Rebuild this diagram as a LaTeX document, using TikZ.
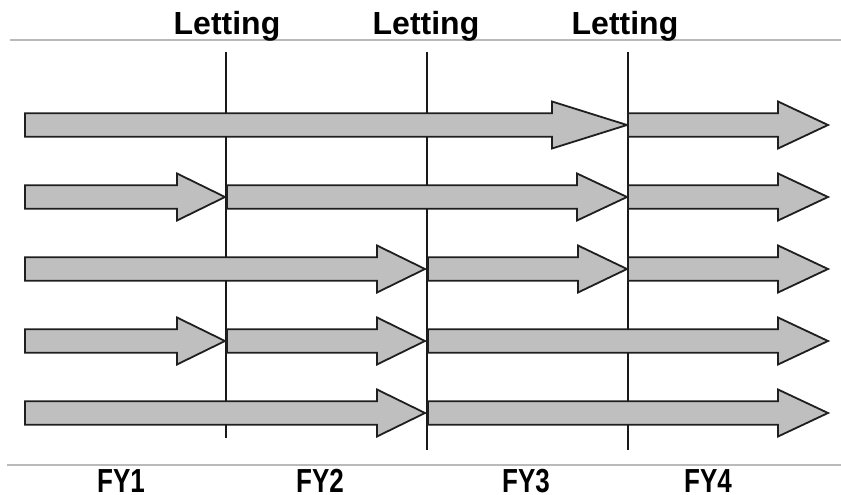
\documentclass[tikz,border=0pt]{standalone}
\usepackage{fontspec}
\setmainfont{Liberation Sans}
\begin{document}
\begin{tikzpicture}[x=0.75pt,y=-0.75pt,
  rulefine/.style={draw=black!27,line width=0.9pt},
  letline/.style={draw=black!90,line width=1.6pt},
  barrow/.style={fill=black!25,draw=black!88,line width=1.35pt,line join=miter},
  toplabel/.style={font=\fontsize{24}{24}\selectfont\bfseries,anchor=base,inner sep=0pt},
  fylabel/.style={font=\fontsize{25}{25}\selectfont\bfseries,anchor=base,inner sep=0pt,xscale=0.78}]
\useasboundingbox[fill=white] (0,0) rectangle (841,495);
\newcommand\tlarrow[4]{%
  \draw[barrow] (#1,#4-11.8) -- (#3,#4-11.8) -- (#3,#4-23.5) -- (#2,#4)
    -- (#3,#4+23.5) -- (#3,#4+11.8) -- (#1,#4+11.8) -- cycle;}
% guide lines
\draw[rulefine] (10,40) -- (841,40);
\draw[rulefine] (7,465) -- (841,465);
% letting lines
\coordinate (l1t) at (226,52); \coordinate (l1b) at (226,438);
\coordinate (l2t) at (427,52); \coordinate (l2b) at (427,450);
\coordinate (l3t) at (628,52); \coordinate (l3b) at (628,450);
\draw[letline] (l1t) -- (l1b);
\draw[letline] (l2t) -- (l2b);
\draw[letline] (l3t) -- (l3b);
% labels
\node[toplabel] (let1) at (227,35) {Letting};
\node[toplabel] (let2) at (426,35) {Letting};
\node[toplabel] (let3) at (625,35) {Letting};
\node[fylabel] (fy1) at (121,492) {FY1};
\node[fylabel] (fy2) at (320,492) {FY2};
\node[fylabel] (fy3) at (526,492) {FY3};
\node[fylabel] (fy4) at (708,492) {FY4};
% arrows
\tlarrow{25}{627}{552}{125}
\tlarrow{628}{828}{778}{125}
\tlarrow{25}{225}{177}{197}
\tlarrow{227}{627}{577}{197}
\tlarrow{628}{828}{778}{197}
\tlarrow{25}{425}{377}{269}
\tlarrow{428}{627}{578}{269}
\tlarrow{628}{828}{778}{269}
\tlarrow{25}{225}{177}{341}
\tlarrow{227}{425}{377}{341}
\tlarrow{428}{828}{778}{341}
\tlarrow{25}{425}{377}{413}
\tlarrow{428}{828}{778}{413}
\end{tikzpicture}
\end{document}
